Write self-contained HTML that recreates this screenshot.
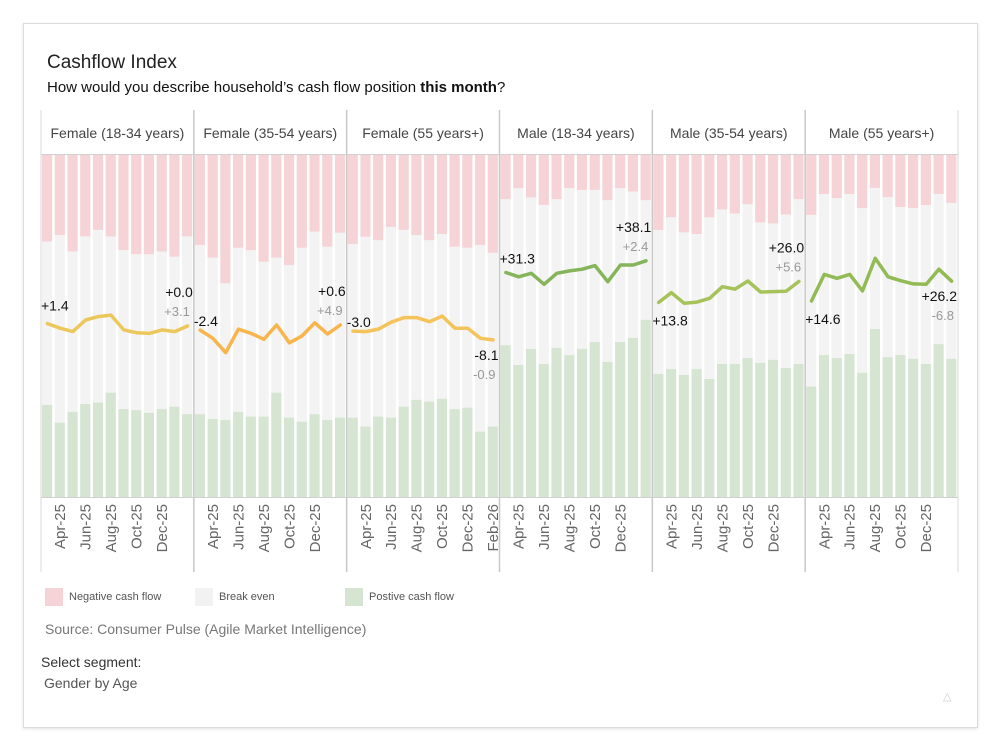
<!DOCTYPE html>
<html><head><meta charset="utf-8"><style>
html,body{margin:0;padding:0;background:#fff;width:1000px;height:750px;overflow:hidden;font-family:"Liberation Sans",sans-serif}
#card{position:absolute;left:23px;top:23px;width:953px;height:703px;border:1px solid #dcdcdc;box-shadow:0 1px 3px rgba(0,0,0,.12);background:#fff}
.t{position:absolute;white-space:nowrap}
</style></head><body>
<div id="card"></div>
<div class="t" style="left:47px;top:52px;font-size:19px;color:#222">Cashflow Index</div>
<div class="t" style="left:47px;top:79px;font-size:15px;color:#111">How would you describe household’s cash flow position <b>this month</b>?</div>
<svg id="chart" width="1000" height="750" style="position:absolute;left:0;top:0"></svg>
<div class="t" style="left:45px;top:588px;font-size:11px;color:#555"><span style="display:inline-block;width:18px;height:18px;background:#f6d3d6;vertical-align:middle;margin-right:6px"></span>Negative cash flow</div>
<div class="t" style="left:195px;top:588px;font-size:11px;color:#555"><span style="display:inline-block;width:18px;height:18px;background:#f2f2f2;vertical-align:middle;margin-right:6px"></span>Break even</div>
<div class="t" style="left:345px;top:588px;font-size:11px;color:#555"><span style="display:inline-block;width:18px;height:18px;background:#d6e5d2;vertical-align:middle;margin-right:6px"></span>Postive cash flow</div>
<div class="t" style="left:45px;top:621px;font-size:14px;color:#777">Source: Consumer Pulse (Agile Market Intelligence)</div>
<div class="t" style="left:41px;top:654px;font-size:14px;color:#333">Select segment:</div>
<div class="t" style="left:44px;top:675px;font-size:14px;color:#555">Gender by Age</div>
<div class="t" style="left:943px;top:690px;font-size:11px;color:#ccc">△</div>
<script>
const panels = ["Female (18-34 years)","Female (35-54 years)","Female (55 years+)","Male (18-34 years)","Male (35-54 years)","Male (55 years+)"];
const months = ["Mar-25","Apr-25","May-25","Jun-25","Jul-25","Aug-25","Sep-25","Oct-25","Nov-25","Dec-25","Jan-26","Feb-26"];
const negative = [
 [25.3,23.4,28.2,23.8,21.9,23.8,27.8,29.0,29.0,28.2,29.7,23.8],
 [26.3,30.0,37.5,27.1,27.8,31.2,30.0,32.2,27.1,22.4,26.8,22.7],
 [26.0,23.9,24.9,21.0,21.9,23.4,24.9,23.1,26.8,27.1,26.3,28.6],
 [12.9,9.7,12.4,14.6,12.9,9.7,10.2,10.2,13.2,9.7,10.7,13.2],
 [21.9,18.2,22.6,23.1,18.2,15.9,17.1,14.4,19.7,20.0,17.4,12.9],
 [17.5,11.4,12.6,11.4,15.5,9.6,12.3,15.2,15.5,14.6,11.4,14.0]];
const positive = [
 [26.9,21.7,24.9,27.2,27.6,30.5,25.7,25.4,24.6,25.7,26.4,24.2],
 [24.2,22.8,22.5,24.9,23.5,23.5,30.5,23.2,22.0,24.2,22.5,23.2],
 [23.2,20.6,23.5,23.2,26.4,28.4,27.9,28.7,25.7,26.1,19.1,20.6],
 [44.4,38.6,43.3,38.9,43.6,41.5,43.3,45.3,39.5,45.3,46.5,51.8],
 [36.0,37.4,35.7,37.4,34.5,38.9,38.9,40.6,39.2,40.1,37.7,38.9],
 [32.3,41.5,40.6,41.8,36.3,49.1,40.9,41.5,40.4,38.9,44.7,40.4]];
const indexVals = [
 [1.4,-1.3,-3.3,3.5,5.5,6.4,-2.3,-3.9,-4.3,-2.3,-3.3,0.0],
 [-2.4,-7.2,-15.6,-1.9,-4.3,-7.8,0.6,-9.8,-5.8,1.9,-4.7,0.6],
 [-3.0,-3.3,-1.8,2.2,4.9,4.9,2.5,5.8,-1.3,-1.3,-7.2,-8.1],
 [31.3,28.8,30.8,24.4,30.8,32.2,33.2,35.3,25.9,35.7,35.7,38.1],
 [13.8,19.5,13.3,14.0,16.2,23.0,21.6,26.3,19.9,20.1,20.3,26.0],
 [14.6,30.2,27.9,30.2,20.5,39.6,28.8,26.5,24.6,24.4,33.2,26.2]];
const firstLabels = ["+1.4","-2.4","-3.0","+31.3","+13.8","+14.6"];
const lastLabels = ["+0.0","+0.6","-8.1","+38.1","+26.0","+26.2"];
const changeLabels = ["+3.1","+4.9","-0.9","+2.4","+5.6","-6.8"];
const tickMonths = [["Apr-25","Jun-25","Aug-25","Oct-25","Dec-25"],["Apr-25","Jun-25","Aug-25","Oct-25","Dec-25"],["Apr-25","Jun-25","Aug-25","Oct-25","Dec-25","Feb-26"],["Apr-25","Jun-25","Aug-25","Oct-25","Dec-25"],["Apr-25","Jun-25","Aug-25","Oct-25","Dec-25"],["Apr-25","Jun-25","Aug-25","Oct-25","Dec-25"]];

const NS="http://www.w3.org/2000/svg", svg=document.getElementById('chart');
const X0=41, X1=958, TOP=155, BOT=497, PW=(X1-X0)/panels.length, BW=PW/months.length;
const pctY = p => BOT - p/100*(BOT-TOP);
const idxY = v => 326 - v*1.71;
const barX = (pi,i) => X0 + pi*PW + i*BW;
const lineColors=["#ecc85c","#f8b54d","#f4c35a","#86b45a","#a6c25b","#93bb55"];
const aboveLast=[true,true,false,true,true,false];
function mk(tag,attrs,parent){const e=document.createElementNS(NS,tag);for(const k in attrs)e.setAttribute(k,attrs[k]);(parent||svg).appendChild(e);return e;}
function txt(x,y,s,size,fill,anchor){const t=mk('text',{x:x,y:y,'font-size':size,fill:fill,'text-anchor':anchor||'start','font-family':'Liberation Sans, sans-serif'});t.textContent=s;return t;}

panels.forEach((name,pi)=>{
  const px=X0+pi*PW;
  const h=txt(px+PW/2,138,name,14,'#444','middle');
  
  
  months.forEach((m,i)=>{
    const x=barX(pi,i)+1, w=BW-2.6;
    const g=mk('g',{});
    
    
    mk('rect',{x:x,y:TOP,width:w,height:BOT-TOP,fill:'#f3f3f3'},g);
    mk('rect',{x:x,y:TOP,width:w,height:pctY(100-negative[pi][i])-TOP,fill:'#f6d3d6'},g);
    const py=pctY(positive[pi][i]);
    mk('rect',{x:x,y:py,width:w,height:BOT-py,fill:'#d6e5d2'},g);
  });
  const pts=indexVals[pi].map((v,i)=>(barX(pi,i)+BW/2).toFixed(1)+','+idxY(v).toFixed(1)).join(' ');
  const pl=mk('polyline',{points:pts,fill:'none',stroke:lineColors[pi],'stroke-width':3.5,'stroke-linejoin':'round','stroke-linecap':'round'});
  
  
  const v0=indexVals[pi][0], vl=indexVals[pi][months.length-1];
  const fl=txt(px,idxY(v0)-13,firstLabels[pi],14,'#111');
  if(pi==4||pi==5) fl.setAttribute('y',idxY(v0)+23);
  if(pi==3) fl.setAttribute('y',idxY(v0)-9);
  if(pi==1||pi==2) fl.setAttribute('y',idxY(v0)-4);
  
  
  const ex=px+PW-1;
  let ly = aboveLast[pi] ? idxY(vl)-29 : idxY(vl)+20;
  const ll=txt(ex,ly,lastLabels[pi],14,'#111','end');
  
  
  const cl=txt(ex-3,ly+19,changeLabels[pi],13,'#999','end');
  
  
  tickMonths[pi].forEach(m=>{
    const i=months.indexOf(m), cx=barX(pi,i)+BW/2+5;
    const t=txt(0,0,m,15,'#666','end');
    t.setAttribute('transform','translate('+cx+',504) rotate(-90)');
    
    
  });
});
for(let p=0;p<=panels.length;p++){const x=X0+p*PW;const l=mk('line',{x1:x,y1:110,x2:x,y2:572,stroke:(p==0||p==panels.length)?'#d8d8d8':'#c8c8c8','stroke-width':(p==0||p==panels.length)?1:1.5});
  
  }
const hl=mk('line',{x1:X0,y1:154.5,x2:X1,y2:154.5,stroke:'#d0d0d0','stroke-width':1});


const al=mk('line',{x1:X0,y1:497.5,x2:X1,y2:497.5,stroke:'#d0d0d0','stroke-width':1});


</script>
</body></html>
